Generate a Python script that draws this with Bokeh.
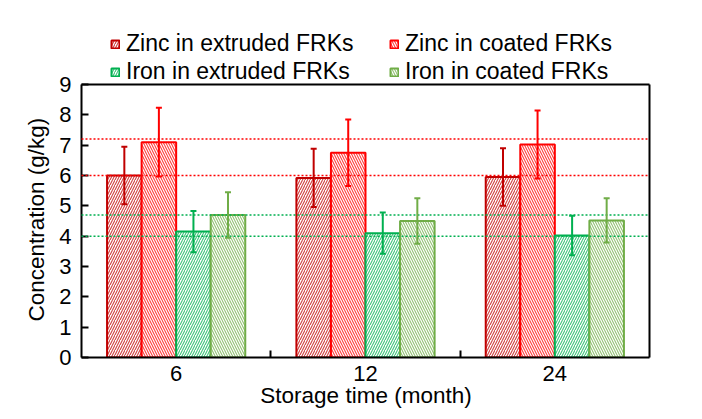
from bokeh.plotting import figure
from bokeh.models import (ColumnDataSource, Whisker, TeeHead, FixedTicker, Range1d,
                          Legend, LegendItem)
from bokeh.transform import dodge
from bokeh.embed import file_html
from bokeh.resources import INLINE

# ---- data ----
months = ["6", "12", "24"]
xpos = [0.5, 1.5, 2.5]
zinc_extruded = [6.0, 5.92, 5.95]
zinc_extruded_err = [0.95, 0.96, 0.95]
zinc_coated = [7.1, 6.75, 7.02]
zinc_coated_err = [1.13, 1.10, 1.12]
iron_extruded = [4.15, 4.10, 4.02]
iron_extruded_err = [0.68, 0.68, 0.65]
iron_coated = [4.70, 4.50, 4.52]
iron_coated_err = [0.75, 0.75, 0.73]
zinc_ref_lines = [6.0, 7.2]
iron_ref_lines = [4.0, 4.7]
y_ticks = list(range(0, 10))

FONT = "Liberation Sans"
BW = 0.1825

series = [
    ("Zinc in extruded FRKs", zinc_extruded, zinc_extruded_err, "#C00000", "right_diagonal_line", -1.5 * BW),
    ("Zinc in coated FRKs", zinc_coated, zinc_coated_err, "#FF0000", "left_diagonal_line", -0.5 * BW),
    ("Iron in extruded FRKs", iron_extruded, iron_extruded_err, "#00B050", "right_diagonal_line", 0.5 * BW),
    ("Iron in coated FRKs", iron_coated, iron_coated_err, "#70AD47", "left_diagonal_line", 1.5 * BW),
]

# layout (page pixels): plot box spans x 81..649, y 84..357; the space above the
# box (legend area) is part of the frame so that the legend is not clipped.
W, H = 702, 419
BOX_L, BOX_R, BOX_T, BOX_B = 81, 649, 84, 357
Y_MAX = 9
y_end = Y_MAX * BOX_B / (BOX_B - BOX_T)
X_MAX = 3
x_end = X_MAX * (BOX_R + 1 - BOX_L) / (BOX_R - BOX_L)

p = figure(width=W, height=H, output_backend="svg", toolbar_location=None,
           x_range=Range1d(0, x_end), y_range=Range1d(0, y_end),
           min_border_left=BOX_L, min_border_right=W - BOX_R - 1, min_border_top=0,
           min_border_bottom=H - BOX_B)
p.background_fill_color = "white"
p.border_fill_color = "white"
p.grid.visible = False
p.outline_line_color = None

renderers = {}
for name, vals, errs, color, hatch, off in series:
    src = ColumnDataSource(dict(x=xpos, top=vals,
                                up=[v + e for v, e in zip(vals, errs)],
                                lo=[v - e for v, e in zip(vals, errs)]))
    r = p.vbar(x=dodge("x", off, range=p.x_range), top="top", width=BW, bottom=0, source=src,
               fill_color="white", line_color=color, line_width=2,
               hatch_pattern=hatch, hatch_color=color, hatch_scale=5, hatch_weight=1.1, hatch_alpha=0.75)
    renderers[name] = r
    w = Whisker(source=src, base=dodge("x", off, range=p.x_range), upper="up", lower="lo",
                line_color=color, line_width=2, level="overlay",
                upper_head=TeeHead(size=6, line_color=color, line_width=2),
                lower_head=TeeHead(size=6, line_color=color, line_width=2))
    p.add_layout(w)

for yv in zinc_ref_lines:
    p.segment(x0=[0], x1=[X_MAX], y0=[yv], y1=[yv], line_color="#FF0000",
              line_dash="2 2", line_width=1.5, level="overlay")
for yv in iron_ref_lines:
    p.segment(x0=[0], x1=[X_MAX], y0=[yv], y1=[yv], line_color="#00B050",
              line_dash="2 2", line_width=1.5, level="overlay")

# top and right edges of the plot box
p.segment(x0=[0, X_MAX], x1=[X_MAX, X_MAX], y0=[Y_MAX, 0], y1=[Y_MAX, Y_MAX],
          line_color="black", line_width=2, level="overlay")

# x axis
xa = p.xaxis[0]
xa.bounds = (0, X_MAX)
xa.ticker = FixedTicker(ticks=xpos, minor_ticks=[1, 2])
xa.major_label_overrides = {x: m for x, m in zip(xpos, months)}
xa.major_tick_in = 0
xa.major_tick_out = 0
xa.minor_tick_in = 7
xa.minor_tick_out = 0
xa.minor_tick_line_color = "black"
xa.minor_tick_line_width = 2
xa.axis_label = "Storage time (month)"

# y axis (label padded with no-break spaces so it centres on the plot box, not the taller frame)
ya = p.yaxis[0]
ya.bounds = (0, Y_MAX)
ya.ticker = FixedTicker(ticks=y_ticks)
ya.major_tick_in = 7
ya.major_tick_out = 0
ya.minor_tick_line_color = None
ya.axis_label = "Concentration (g/kg)" + "\u00a0" * 13

for ax in (xa, ya):
    ax.axis_line_color = "black"
    ax.axis_line_width = 2
    ax.major_tick_line_color = "black"
    ax.major_tick_line_width = 2
    ax.major_label_text_font = FONT
    ax.major_label_text_font_size = "22px"
    ax.major_label_text_color = "black"
    ax.axis_label_text_font = FONT
    ax.axis_label_text_font_size = "22.5px"
    ax.axis_label_text_font_style = "normal"
    ax.axis_label_text_color = "black"
xa.major_label_standoff = 8
xa.axis_label_standoff = -1
ya.major_label_standoff = 10
ya.axis_label_standoff = 7

order = [0, 2, 1, 3]  # column 1: extruded, column 2: coated
legend = Legend(items=[LegendItem(label=series[i][0], renderers=[renderers[series[i][0]]]) for i in order],
                ncols=2, location=(29, 272), margin=0, padding=0, spacing=1,
                glyph_width=10, glyph_height=10, label_standoff=6, label_width=262,
                label_height=25, label_text_font=FONT, label_text_font_size="23px",
                label_text_color="black", border_line_color=None, background_fill_alpha=0)
p.add_layout(legend)

open("out.html", "w").write(file_html(p, INLINE))
